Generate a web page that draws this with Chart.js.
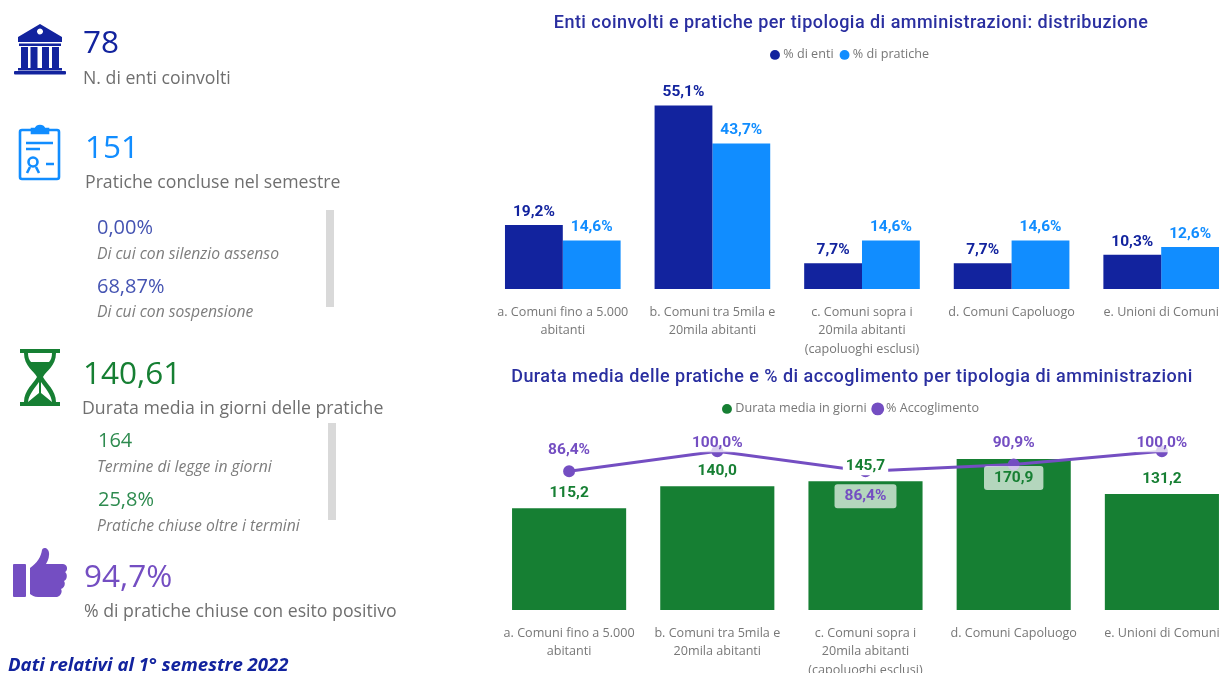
<!DOCTYPE html>
<html lang="it"><head><meta charset="utf-8">
<script src="https://cdn.jsdelivr.net/npm/chart.js@4"></script>
<style>
html,body{margin:0;padding:0;background:#fff;width:1221px;height:673px;overflow:hidden}
#page{position:relative;width:1221px;height:673px;overflow:hidden;filter:blur(.35px)}
.t{position:absolute;white-space:nowrap;transform:translateY(-50%);font-family:"Open Sans",sans-serif;line-height:1}
.big{font-size:31.5px;font-weight:400}.lab{font-size:17.7px;color:#6f6f6f;margin-top:1px}.sub{font-size:20px;font-weight:400}
.it{font-size:15.7px;font-style:italic;color:#7d7d7d;margin-top:1px}
.bar{position:absolute;width:8px;height:97px;background:#d9d9d9}
svg{position:absolute}
canvas{position:absolute}
</style></head><body><div id="page">
<svg style="left:12px;top:22px" width="56" height="54" viewBox="0 0 56 54"><g fill="#12239E">
<path fill-rule="evenodd" d="M28 2 L50 15 V20 H6 V15 Z M28 6.500 a3 3 0 1 0 .01 0Z"/>
<rect x="7" y="21.500" width="42" height="2.500"/><rect x="9" y="25" width="7" height="21"/><rect x="18.500" y="25" width="7" height="21"/><rect x="30" y="25" width="7" height="21"/><rect x="40" y="25" width="7" height="21"/>
<rect x="6" y="46" width="44" height="2.500"/><rect x="2" y="49" width="52" height="3.500" rx="1"/></g></svg>
<svg style="left:18px;top:124px" width="44" height="58" viewBox="0 0 44 58"><g fill="none" stroke="#118DFF" stroke-width="2.600">
<path d="M14 6 H4 a2 2 0 0 0 -2 2 V53 a2 2 0 0 0 2 2 H39 a2 2 0 0 0 2 -2 V8 a2 2 0 0 0 -2 -2 H30"/>
<path fill="#118DFF" d="M14 9 V5 H18 a4 3 0 0 1 8 0 H30 V9Z"/>
<path d="M8 19 H35 M8 25 H22 M28 40 H36"/><circle cx="15" cy="38" r="4.500"/><path d="M12 43 L9 49 M18 43 L21 49"/></g></svg>
<svg style="left:19px;top:348px" width="42" height="60" viewBox="0 0 42 60"><path fill="#167F33" fill-rule="evenodd" d="M1 1 H41 V5 H37 C37 18 27 23 24 29 C27 35 37 42 37 54 H41 V58 H1 V54 H5 C5 42 15 35 18 29 C15 23 5 18 5 5 H1Z M9 5 C9 9 10 12 12 14 H30 C32 12 33 9 33 5Z M20 34 C16 40 10 46 9 54 L20 45Z M22 34 V45 L33 54 C32 46 26 40 22 34Z"/></svg>
<svg style="left:11px;top:547px" width="58" height="54" viewBox="0 0 58 54"><g fill="#744EC2"><rect x="2" y="17" width="13" height="33" rx="1"/>
<path d="M19 21 C26 16 30 10 31 3 C32 -1 39 1 38 8 C38 12 36 15 35 17 H52 C57 17 57 24 54 25 C57 27 56 33 53 34 C55 37 53 41 50 42 C52 45 49 50 45 50 H27 C23 50 21 48 19 47Z"/></g></svg>
<div class="bar" style="left:326px;top:210px"></div><div class="bar" style="left:328px;top:423px"></div>
<div id="kpi"></div>
<canvas id="c1" style="left:466px;top:0" width="770" height="360"></canvas>
<canvas id="c2" style="left:468px;top:354px" width="768" height="336"></canvas>
</div>
<script>
const categories=[["a. Comuni fino a 5.000","abitanti"],["b. Comuni tra 5mila e","20mila abitanti"],["c. Comuni sopra i","20mila abitanti","(capoluoghi esclusi)"],"d. Comuni Capoluogo","e. Unioni di Comuni"];
const percEnti=[19.2,55.1,7.7,7.7,10.3];
const percPratiche=[14.6,43.7,14.6,14.6,12.6];
const durataMedia=[115.2,140.0,145.7,170.9,131.2];
const percAccoglimento=[86.4,100.0,86.4,90.9,100.0];
const title1="Enti coinvolti e pratiche per tipologia di amministrazioni: distribuzione";
const title2="Durata media delle pratiche e % di accoglimento per tipologia di amministrazioni";
const NAVY="#12239E",BLUE="#118DFF",GREEN="#167F33",PURPLE="#744EC2";
const kpiTexts=[
["78","big",83,41,NAVY],["N. di enti coinvolti","lab",83,77],
["151","big",85,146,BLUE],["Pratiche concluse nel semestre","lab",85,181],
["0,00%","sub",97,227,"#4453B2"],["Di cui con silenzio assenso","it",97,253],
["68,87%","sub",97,286,"#4453B2"],["Di cui con sospensione","it",97,311],
["140,61","big",83,372,GREEN],["Durata media in giorni delle pratiche","lab",82,407],
["164","sub",98,440,"#2E8B4F"],["Termine di legge in giorni","it",97,466],
["25,8%","sub",98,499,"#2E8B4F"],["Pratiche chiuse oltre i termini","it",97,525],
["94,7%","big",84,575,PURPLE],["% di pratiche chiuse con esito positivo","lab",84,610]];
const footer="Dati relativi al 1° semestre 2022";
const kpi=document.getElementById("kpi");
kpiTexts.forEach(([s,c,x,y,col])=>{const d=document.createElement("div");d.className="t "+c;d.textContent=s;d.style.left=x+"px";d.style.top=y+"px";if(col)d.style.color=col;kpi.appendChild(d);});
const f=document.createElement("div");f.className="t";f.textContent=footer;f.style.cssText="left:8px;top:664px;font-size:18.6px;font-weight:700;font-style:italic;color:"+NAVY;kpi.appendChild(f);

const fmt=(v,suf)=>v.toFixed(1).replace(".",",")+suf;
const spacedTitle={id:"spacedTitle",afterLayout(chart){
 const tb=chart.titleBlock;if(tb.__spaced)return;tb.__spaced=true;
 const d=tb.draw;tb.draw=function(){const c=this.ctx;c.save();c.letterSpacing="0.47px";d.call(this);c.restore();};
}};
const valueLabels={id:"valueLabels",afterDatasetsDraw(chart){
 const ctx=chart.ctx;
 chart.data.datasets.forEach((ds,i)=>{
  const meta=chart.getDatasetMeta(i);
  meta.data.forEach((el,k)=>{
   const txt=fmt(ds.data[k],ds.suffix||"");
   const below=ds.below&&ds.below[k];
   let y=el.y+(below?ds.offBelow:-ds.offAbove);
   if(!below&&ds.clampTop!=null)y=Math.max(y,chart.chartArea.top+ds.clampTop);
   ctx.save();
   ctx.font='700 15.5px Roboto, sans-serif';ctx.textAlign="center";ctx.textBaseline="middle";
   const w=ctx.measureText(txt).width;
   const bg=below?"rgba(255,255,255,.68)":ds.halo?ds.halo[k]:null;
   if(bg){ctx.fillStyle=bg;ctx.beginPath();ctx.roundRect(el.x-w/2-(below?10:3),y-(below?12:9),w+(below?20:6),below?24:18,3);ctx.fill();}
   ctx.fillStyle=ds.textColor;ctx.fillText(txt,el.x,y);
   ctx.restore();
  });
 });
}};
const titleOpt=(text)=>({display:true,text,color:"#2A2FA0",font:{family:"Roboto, sans-serif",size:18,weight:"500"},padding:{top:13,bottom:5}});
const legendOpt={display:true,position:"top",labels:{usePointStyle:true,pointStyle:"circle",boxWidth:4,boxHeight:7,padding:9,color:"#777",font:{family:"'Open Sans', sans-serif",size:12.6},sort:(a,b)=>a.datasetIndex-b.datasetIndex}};
const xAxis=(h,pad)=>({grid:{display:false},border:{display:false},afterFit(s){s.height=h;},ticks:{autoSkip:false,maxRotation:0,minRotation:0,padding:pad,color:"#777",font:{family:"'Open Sans', sans-serif",size:12.6,lineHeight:1.47}}});
const spacer=(w,min,max)=>({display:true,min,max,grid:{display:false},border:{display:false},ticks:{display:false},afterFit(s){s.width=w;}});

new Chart(document.getElementById("c1"),{type:"bar",plugins:[valueLabels,spacedTitle],data:{labels:categories,datasets:[
 {label:"% di enti",data:percEnti,backgroundColor:NAVY,textColor:NAVY,suffix:"%",offAbove:13,categoryPercentage:.773,barPercentage:1},
 {label:"% di pratiche",data:percPratiche,backgroundColor:BLUE,textColor:BLUE,suffix:"%",offAbove:13,categoryPercentage:.773,barPercentage:1}]},
 options:{responsive:false,animation:false,layout:{autoPadding:false,padding:0},
 plugins:{title:titleOpt(title1),legend:legendOpt,tooltip:{enabled:false}},
 scales:{x:xAxis(71,6),y:spacer(22,0,65.4)}}});

new Chart(document.getElementById("c2"),{type:"bar",plugins:[valueLabels,spacedTitle],data:{labels:categories,datasets:[
 {type:"bar",label:"Durata media in giorni",data:durataMedia,backgroundColor:GREEN,textColor:GREEN,suffix:"",offAbove:15,offBelow:19,below:[false,false,false,true,false],halo:["rgba(0,0,0,0)","rgba(0,0,0,0)","#fff","rgba(0,0,0,0)","rgba(0,0,0,0)"],categoryPercentage:.77,barPercentage:1,order:2,yAxisID:"y"},
 {type:"line",label:"% Accoglimento",data:percAccoglimento,borderColor:PURPLE,backgroundColor:PURPLE,textColor:PURPLE,suffix:"%",offAbove:21,offBelow:25,below:[false,false,true,false,false],clampTop:18,borderWidth:3,pointRadius:4.5,tension:0,order:1,yAxisID:"y1",clip:false,halo:["rgba(0,0,0,0)","rgba(255,255,255,.75)","rgba(0,0,0,0)","rgba(0,0,0,0)","rgba(255,255,255,.75)"]}]},
 options:{responsive:false,animation:false,layout:{autoPadding:false,padding:0},
 plugins:{title:titleOpt(title2),legend:legendOpt,tooltip:{enabled:false}},
 scales:{x:xAxis(80,6),y:spacer(27,0,209),y1:{display:false,min:-8.2,max:117.7,position:"right"}}}});
</script></body></html>
